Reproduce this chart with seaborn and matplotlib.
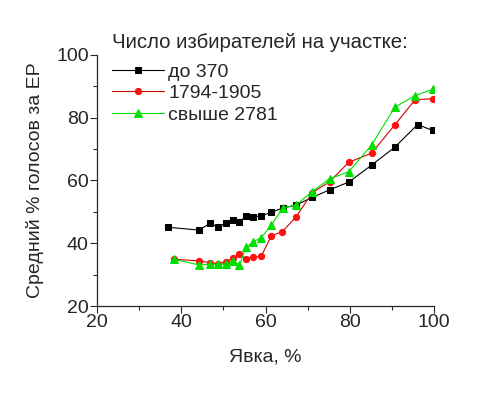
import numpy as np
import pandas as pd
import matplotlib
matplotlib.use("Agg")
import matplotlib.pyplot as plt
import seaborn as sns

# turnout (x) and mean % for ER (y)
x_small = [36.8, 44.2, 46.9, 48.7, 50.5, 52.2, 53.8, 55.4, 57.1, 59.0, 61.4, 64.1, 67.3, 71.1, 75.2, 79.8, 85.2, 90.7, 96.1, 99.7]
y_small = [45.1, 44.2, 46.4, 45.1, 46.4, 47.4, 46.7, 48.8, 48.5, 48.7, 49.9, 51.2, 52.2, 54.6, 57.0, 59.5, 64.9, 70.6, 77.8, 75.9]

x_mid = [38.3, 44.2, 46.9, 48.7, 50.5, 52.2, 53.8, 55.4, 57.1, 59.0, 61.4, 64.0, 67.3, 71.1, 75.2, 79.8, 85.2, 90.7, 95.5, 99.7]
y_mid = [34.9, 34.4, 33.8, 33.5, 34.0, 35.2, 36.6, 34.9, 35.5, 35.9, 42.4, 43.7, 48.5, 56.1, 59.6, 65.8, 68.7, 77.7, 85.7, 86.0]

x_big = [38.3, 44.2, 46.9, 48.7, 50.5, 52.2, 53.8, 55.4, 57.1, 59.0, 61.4, 64.1, 67.3, 71.0, 75.2, 79.8, 85.2, 90.7, 95.5, 99.8]
y_big = [34.9, 33.1, 33.3, 33.3, 33.3, 34.4, 33.1, 38.7, 40.5, 41.8, 45.8, 51.2, 52.2, 56.4, 60.5, 62.8, 71.3, 83.3, 87.0, 89.1]

labels = ["до 370", "1794-1905", "свыше 2781"]

sns.set_style("ticks")
plt.rcParams['font.family'] = ['Liberation Sans', 'DejaVu Sans']

fig = plt.figure(figsize=(4.78, 3.97), dpi=100)
ax = fig.add_axes([0.203, 0.229, 0.705, 0.633])

sns.lineplot(x=x_small, y=y_small, ax=ax, color="black", marker="s", markersize=4.5,
             markeredgecolor="black", linewidth=0.8, label=labels[0], sort=False)
sns.lineplot(x=x_mid, y=y_mid, ax=ax, color="#d00000", marker="o", markersize=4.5,
             markerfacecolor="#ff1010", markeredgecolor="#ff1010", linewidth=0.8,
             label=labels[1], sort=False)
sns.lineplot(x=x_big, y=y_big, ax=ax, color="#00e000", marker="^", markersize=5.5,
             markeredgecolor="#00e000", linewidth=0.8, label=labels[2], sort=False)

ax.set_xlim(20, 100)
ax.set_ylim(20, 100)
ax.set_xticks([20, 40, 60, 80, 100])
ax.set_yticks([20, 40, 60, 80, 100])
ax.set_xticks(np.arange(30, 100, 20), minor=True)
ax.set_yticks(np.arange(30, 100, 20), minor=True)
ax.tick_params(which="major", direction="out", length=5, width=0.8, labelsize=14, pad=1)
ax.tick_params(which="minor", direction="out", length=3, width=0.8)
for s in ["top", "right"]:
    ax.spines[s].set_visible(False)
for s in ["left", "bottom"]:
    ax.spines[s].set_linewidth(0.9)

ax.set_xlabel("Явка, %", fontsize=14, labelpad=12)
ax.set_ylabel("Средний % голосов за ЕР", fontsize=14, labelpad=9)

leg = ax.legend(title="Число избирателей на участке:", loc="upper left",
                bbox_to_anchor=(0.234, 0.917), bbox_transform=fig.transFigure,
                frameon=False, fontsize=14, title_fontsize=14.7, handlelength=2.7,
                handletextpad=0.2, labelspacing=0.2, borderaxespad=0, borderpad=0)
leg._legend_box.align = "left"
leg._legend_box.sep = 8

fig.savefig("out.png", dpi=100)
